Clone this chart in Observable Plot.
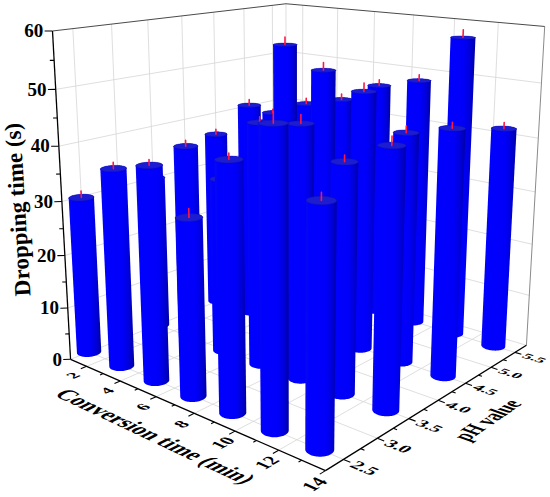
<!DOCTYPE html>
<html>
<head>
<meta charset="utf-8">
<script src="https://cdn.jsdelivr.net/npm/d3@7"></script>
<script src="https://cdn.jsdelivr.net/npm/@observablehq/plot@0.6"></script>
<style>
  html, body { margin: 0; padding: 0; background: #ffffff; }
  #chart svg { display: block; }
</style>
</head>
<body>
<div id="chart"></div>
<script>
// ---------------- data ----------------
const convPositions = [1, 3, 5, 7, 9, 11, 13];          // bar positions on the conversion-time axis (min)
const pHLevels      = [2.5, 3.5, 4.5, 5.5];             // bar rows on the pH axis
const dropTime_pH2_5 = [29.8, 36.7, 38.8, 31.6, 42.8, 49.8, 39.7];
const dropTime_pH3_5 = [30.0, 37.6, 33.0, 44.6, 45.7, 40.7, 44.8];
const dropTime_pH4_5 = [35.6, 42.7, 55.3, 51.5, 48.7, 42.6, 44.7];
const dropTime_pH5_5 = [37.4, 40.5, 42.5, 46.4, 48.4, 57.3, 41.8];
const error_pH2_5 = [1.2, 1.1, 1.0, 1.5, 1.0, 1.8, 1.2];
const error_pH3_5 = [1.2, 1.1, 1.2, 1.0, 1.5, 1.1, 1.5];
const error_pH4_5 = [1.0, 1.1, 1.4, 1.4, 1.5, 1.2, 1.0];
const error_pH5_5 = [0.7, 1.1, 1.1, 1.1, 1.1, 1.4, 1.1];

const convTicks  = [2, 4, 6, 8, 10, 12, 14];
const convMinor  = [1, 3, 5, 7, 9, 11, 13];
const pHTicks    = [2.5, 3.0, 3.5, 4.0, 4.5, 5.0, 5.5];
const pHMinor    = [2.75, 3.25, 3.75, 4.25, 4.75, 5.25];
const zTicks     = [0, 10, 20, 30, 40, 50, 60];
const zMinor     = [5, 15, 25, 35, 45, 55];

const convDomain = [1, 14];
const pHDomain   = [2.25, 5.75];
const zDomain    = [0, 60];

// ---------------- 3D camera (layout) ----------------
const W = 550, H = 497;
const focal = 1082, cx = 293, cy = 166;
const deg = Math.PI / 180;
const tilt = 14.3 * deg, camHeight = 1.383;
const azBack = -49.26 * deg, azPH = 40.74 * deg;
const frontCorner = [0.0787, 2.3956];
const eBack = [Math.sin(azBack), Math.cos(azBack)];   // towards decreasing conversion time
const ePH   = [Math.sin(azPH), Math.cos(azPH)];       // towards increasing pH
const convPlus = [-eBack[0], -eBack[1], 0];
const convMinus = [eBack[0], eBack[1], 0];
const pHPlus = [ePH[0], ePH[1], 0];
const pHMinus = [-ePH[0], -ePH[1], 0];
const zOut = [(eBack[0] - ePH[0]) / Math.SQRT2, (eBack[1] - ePH[1]) / Math.SQRT2, 0];

function toWorld(conv, ph, z) {
  const k = (convDomain[1] - conv) / (convDomain[1] - convDomain[0]);
  const q = (ph - pHDomain[0]) / (pHDomain[1] - pHDomain[0]);
  return [frontCorner[0] + k * eBack[0] + q * ePH[0],
          frontCorner[1] + k * eBack[1] + q * ePH[1],
          z / zDomain[1]];
}
function addW(P, d, len) { return [P[0] + d[0] * len, P[1] + d[1] * len, P[2] + d[2] * len]; }
function project([X, Y, Z]) {
  const depth = Y * Math.cos(tilt) + (camHeight - Z) * Math.sin(tilt);
  const up = Y * Math.sin(tilt) + (Z - camHeight) * Math.cos(tilt);
  return {u: X / depth, v: up / depth};
}
function seg(A, B) { const p = project(A), q = project(B); return {x1: p.u, y1: p.v, x2: q.u, y2: q.v}; }

// ---------------- frame: grid, edges, axes ----------------
const c0 = convDomain[0], c1 = convDomain[1], p0 = pHDomain[0], p1 = pHDomain[1], zt = zDomain[1];
const inner = (arr, lo, hi) => arr.filter(d => d > lo && d < hi);

const gridSegs = [
  ...inner(convTicks, c0, c1).map(c => seg(toWorld(c, p0, 0), toWorld(c, p1, 0))),
  ...pHTicks.map(p => seg(toWorld(c0, p, 0), toWorld(c1, p, 0))),
  ...pHTicks.map(p => seg(toWorld(c0, p, 0), toWorld(c0, p, zt))),
  ...inner(zTicks, 0, zt).map(z => seg(toWorld(c0, p0, z), toWorld(c0, p1, z))),
  ...inner(convTicks, c0, c1).map(c => seg(toWorld(c, p1, 0), toWorld(c, p1, zt))),
  ...inner(zTicks, 0, zt).map(z => seg(toWorld(c0, p1, z), toWorld(c1, p1, z))),
  seg(toWorld(c0, p0, 0), toWorld(c0, p1, 0)),
  seg(toWorld(c0, p1, 0), toWorld(c1, p1, 0)),
  seg(toWorld(c0, p1, 0), toWorld(c0, p1, zt))
];
const backEdgeSegs = [
  seg(toWorld(c1, p1, 0), toWorld(c1, p1, zt))
];
const topEdgeSegs = [
  seg(toWorld(c0, p0, zt), toWorld(c0, p1, zt)),
  seg(toWorld(c0, p1, zt), toWorld(c1, p1, zt))
];
const axisSegs = [
  seg(toWorld(c0, p0, 0), toWorld(c1, p0, 0)),
  seg(toWorld(c1, p0, 0), toWorld(c1, p1, 0)),
  seg(toWorld(c0, p0, 0), toWorld(c0, p0, zt))
];
const majorLen = 0.022, minorLen = 0.012;
const tickSegs = [
  ...convTicks.map(c => { const P = toWorld(c, p0, 0); return seg(P, addW(P, pHMinus, majorLen)); }),
  ...convMinor.filter(c => c > c0).map(c => { const P = toWorld(c, p0, 0); return seg(P, addW(P, pHMinus, minorLen)); }),
  ...pHTicks.map(p => { const P = toWorld(c1, p, 0); return seg(P, addW(P, convPlus, majorLen)); }),
  ...pHMinor.map(p => { const P = toWorld(c1, p, 0); return seg(P, addW(P, convPlus, minorLen)); }),
  ...zTicks.map(z => { const P = toWorld(c0, p0, z); return seg(P, addW(P, zOut, majorLen)); }),
  ...zMinor.map(z => { const P = toWorld(c0, p0, z); return seg(P, addW(P, zOut, minorLen)); })
];

// ---------------- labels ----------------
const sw = 1 / 406;  // world length per text pixel for labels lying on the floor
const convLabelRows = convTicks.map(c => ({P: addW(addW(toWorld(c, p0, 0), pHMinus, 0.066), convPlus, 0.02), B: pHPlus, U: convMinus, label: String(c)}));
const pHLabelRows = pHTicks.map(p => ({P: addW(toWorld(c1, p, 0), convPlus, 0.066), B: convPlus, U: pHPlus, label: p.toFixed(1)}));
const convTitleRows = [{P: toWorld(8.2, 1.7, 0), B: convPlus, U: pHPlus, label: "Conversion time (min)"}];
const pHTitleRows = [{P: toWorld(16.15, 3.96, 0), B: pHPlus, U: convMinus, label: "pH value"}];
[convLabelRows, pHLabelRows, convTitleRows, pHTitleRows].forEach(rows => rows.forEach(r => Object.assign(r, project(r.P))));
const zLabelRows = zTicks.map(z => ({...project(addW(toWorld(c0, p0, z), zOut, 0.026)), label: String(z)}));
const zTitleRow = [{...project(toWorld(c0, p0, 30)), label: "Dropping time (s)"}];

// ---------------- bars ----------------
const heightRows = [dropTime_pH2_5, dropTime_pH3_5, dropTime_pH4_5, dropTime_pH5_5];
const errorRows = [error_pH2_5, error_pH3_5, error_pH4_5, error_pH5_5];
const bars = [];
pHLevels.forEach((ph, i) => convPositions.forEach((c, j) => {
  const w = toWorld(c, ph, 0);
  bars.push({conv: c, ph, h: heightRows[i][j], err: errorRows[i][j], dist: Math.hypot(w[0], w[1])});
}));
bars.sort((a, b) => b.dist - a.dist);

const radius = 0.037, nSeg = 72;
const capColor = "#1c1cd0", errColor = "#ff1744";
const barMarks = [];
for (const b of bars) {
  const base = toWorld(b.conv, b.ph, 0);
  const zTop = toWorld(b.conv, b.ph, b.h)[2];
  const bottomPts = [], topPts = [];
  for (let i = 0; i < nSeg; i++) {
    const a = 2 * Math.PI * i / nSeg;
    const X = base[0] + radius * Math.cos(a), Y = base[1] + radius * Math.sin(a);
    bottomPts.push(project([X, Y, 0]));
    topPts.push(project([X, Y, zTop]));
  }
  const hull = d3.polygonHull([...bottomPts, ...topPts].map(p => [p.u, p.v])).map(([u, v]) => ({u, v}));
  const errPts = [project(toWorld(b.conv, b.ph, b.h)), project(toWorld(b.conv, b.ph, b.h + b.err))];
  barMarks.push(
    Plot.line(hull, {x: "u", y: "v", curve: "linear-closed", fill: "url(#cylShade)", stroke: "none"}),
    Plot.line(topPts, {x: "u", y: "v", curve: "linear-closed", fill: capColor, stroke: "#1212a8", strokeWidth: 0.4}),
    Plot.line(errPts, {x: "u", y: "v", stroke: errColor, strokeWidth: 1.6})
  );
}

// ---------------- plot ----------------
const serif = "'Liberation Serif', 'Times New Roman', serif";
const linkOpts = (stroke, w) => ({x1: "x1", y1: "y1", x2: "x2", y2: "y2", stroke, strokeWidth: w});
const svg = Plot.plot({
  width: W, height: H, margin: 0,
  x: {domain: [-cx / focal, (W - cx) / focal], range: [0, W], axis: null},
  y: {domain: [(cy - H) / focal, cy / focal], range: [H, 0], axis: null},
  style: {background: "#ffffff", overflow: "visible"},
  marks: [
    Plot.link(gridSegs, linkOpts("#d6d6d6", 0.8)),
    Plot.link(backEdgeSegs, linkOpts("#8a8a8a", 1)),
    Plot.link(topEdgeSegs, linkOpts("#4a4a4a", 1)),
    ...barMarks,
    Plot.link(axisSegs, linkOpts("#000000", 1.3)),
    Plot.link(tickSegs, linkOpts("#000000", 1.1)),
    Plot.text(zLabelRows, {x: "u", y: "v", text: "label", textAnchor: "end", fontSize: 19, fontWeight: "bold", fontFamily: serif, fill: "#000"}),
    Plot.text(zTitleRow, {x: "u", y: "v", text: "label", rotate: -93.4, dx: -44, dy: 8, fontSize: 23, fontWeight: "bold", fontFamily: serif, fill: "#000"}),
    Plot.text(convLabelRows, {x: "u", y: "v", text: "label", fontSize: 24, fontWeight: "bold", fontFamily: serif, fill: "#000", ariaDescription: "conv-tick-labels"}),
    Plot.text(pHLabelRows, {x: "u", y: "v", text: "label", fontSize: 23, fontWeight: "bold", fontFamily: serif, fill: "#000", ariaDescription: "ph-tick-labels"}),
    Plot.text(convTitleRows, {x: "u", y: "v", text: "label", fontSize: 31, fontWeight: "bold", fontFamily: serif, fill: "#000", ariaDescription: "conv-title"}),
    Plot.text(pHTitleRows, {x: "u", y: "v", text: "label", fontSize: 30, fontWeight: "bold", fontFamily: serif, fill: "#000", ariaDescription: "ph-title"})
  ]
});

// gradient used for the cylinder bodies
const defs = document.createElementNS("http://www.w3.org/2000/svg", "defs");
defs.innerHTML = `<linearGradient id="cylShade" x1="0" y1="0" x2="1" y2="0">
  <stop offset="0" stop-color="#0808ee"/>
  <stop offset="0.12" stop-color="#0000ff"/>
  <stop offset="0.66" stop-color="#0000fa"/>
  <stop offset="0.85" stop-color="#0000d8"/>
  <stop offset="1" stop-color="#0000a4"/>
</linearGradient>`;
svg.insertBefore(defs, svg.firstChild);

// lay the floor labels into the 3D floor plane
const sx = svg.scale("x"), sy = svg.scale("y");
const pix = P => { const p = project(P); return [sx.apply(p.u), sy.apply(p.v)]; };
function findGroup(desc) {
  for (const g of svg.querySelectorAll("g")) {
    if (g.getAttribute("aria-description") === desc) return g;
  }
  return null;
}
function orient(desc, rows) {
  const g = findGroup(desc);
  if (!g) return;
  g.querySelectorAll("text").forEach((t, i) => {
    const r = rows[i]; if (!r) return;
    const q0 = pix(r.P), qb = pix(addW(r.P, r.B, sw)), qu = pix(addW(r.P, r.U, sw));
    const a = qb[0] - q0[0], b = qb[1] - q0[1], c = -(qu[0] - q0[0]), d = -(qu[1] - q0[1]);
    let tr = t.getAttribute("transform");
    if (!tr) {
      const x = +(t.getAttribute("x") || 0), y = +(t.getAttribute("y") || 0);
      t.removeAttribute("x"); t.removeAttribute("y");
      tr = `translate(${x},${y})`;
    }
    t.setAttribute("transform", `${tr} matrix(${a},${b},${c},${d},0,0)`);
  });
}
orient("conv-tick-labels", convLabelRows);
orient("ph-tick-labels", pHLabelRows);
orient("conv-title", convTitleRows);
orient("ph-title", pHTitleRows);

document.getElementById("chart").appendChild(svg);
</script>
</body>
</html>
